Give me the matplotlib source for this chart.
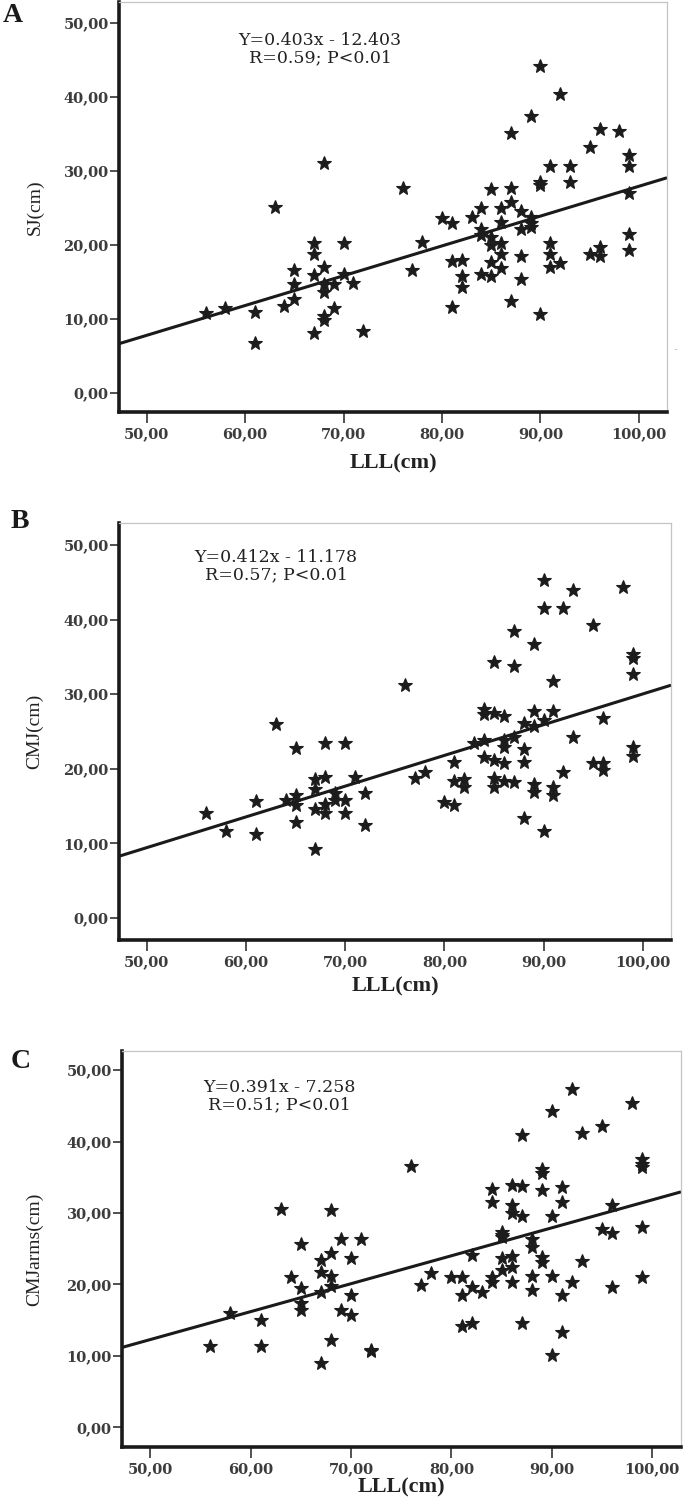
import matplotlib
matplotlib.use("Agg")
import matplotlib.pyplot as plt
from matplotlib.ticker import FixedLocator, FixedFormatter

# ---------------- data ----------------
panel_letters = ["A", "B", "C"]
y_labels = ["SJ(cm)", "CMJ(cm)", "CMJarms(cm)"]
x_label = "LLL(cm)"
slopes = [0.403, 0.412, 0.391]
intercepts = [-12.403, -11.178, -7.258]
annotations = ["Y=0.403x - 12.403\nR=0.59; P<0.01",
               "Y=0.412x - 11.178\nR=0.57; P<0.01",
               "Y=0.391x - 7.258\nR=0.51; P<0.01"]
x_ticks = [50, 60, 70, 80, 90, 100]
x_tick_labels = ["50,00", "60,00", "70,00", "80,00", "90,00", "100,00"]
y_ticks = [0, 10, 20, 30, 40, 50]
y_tick_labels = ["0,00", "10,00", "20,00", "30,00", "40,00", "50,00"]

sj_x = [68, 63, 67, 70, 67, 65, 68, 67, 70, 65, 68, 69, 71, 68, 65, 64, 69, 68, 68, 67, 72, 61, 61, 56, 58,
        90, 92, 89, 87, 96, 98, 95, 99, 99, 91, 93, 90, 90, 93, 99, 76, 85, 87, 87, 84, 86, 88, 80, 81, 83,
        86, 89, 89, 89, 88, 84, 84, 85, 85, 86, 86, 78, 91, 91, 88, 96, 95, 96, 99, 99, 81, 82, 85, 86, 84,
        85, 82, 82, 88, 91, 92, 77, 81, 87, 90]
sj_y = [31.1, 25.1, 20.2, 20.2, 18.7, 16.6, 17.0, 15.9, 16.1, 14.7, 14.7, 14.7, 14.8, 13.6, 12.7, 11.7, 11.4,
        10.3, 9.8, 8.0, 8.4, 10.9, 6.7, 10.8, 11.5,
        44.1, 40.3, 37.4, 35.1, 35.6, 35.4, 33.2, 32.1, 30.7, 30.7, 30.7, 28.5, 28.1, 28.5, 27.0, 27.6, 27.5,
        27.6, 25.8, 24.9, 24.9, 24.5, 23.6, 23.0, 23.7, 23.1, 23.8, 23.0, 22.4, 22.1, 22.1, 21.3, 21.1, 20.0,
        20.2, 18.8, 20.3, 20.2, 18.8, 18.5, 19.7, 18.7, 18.5, 21.5, 19.3, 17.8, 17.9, 17.7, 16.8, 16.1, 15.8,
        15.8, 14.3, 15.3, 17.0, 17.5, 16.6, 11.6, 12.4, 10.6]

cmj_x = [63, 65, 68, 70, 67, 68, 71, 67, 65, 69, 72, 61, 64, 65, 68, 69, 70, 67, 68, 70, 56, 58, 61, 65, 72, 67,
         90, 93, 98, 90, 92, 95, 87, 89, 99, 99, 85, 87, 99, 91, 76, 84, 84, 85, 86, 89, 91, 90, 88, 89, 96,
         83, 84, 86, 87, 86, 88, 93, 99, 99, 81, 84, 85, 86, 88, 95, 96, 96, 92, 77, 78, 81, 82, 82, 85, 85,
         86, 87, 89, 89, 91, 91, 80, 81, 88, 90]
cmj_y = [26.0, 22.8, 23.4, 23.4, 18.6, 18.9, 18.9, 17.3, 16.5, 16.7, 16.7, 15.7, 15.8, 15.1, 15.3, 15.8, 15.8,
         14.6, 14.0, 14.0, 14.1, 11.6, 11.2, 12.9, 12.5, 9.2,
         45.3, 44.0, 44.3, 41.5, 41.5, 39.3, 38.5, 36.7, 35.4, 34.8, 34.3, 33.8, 32.7, 31.7, 31.2, 28.0, 27.4,
         27.5, 27.1, 27.8, 27.8, 26.5, 26.1, 25.7, 26.8, 23.5, 23.8, 23.9, 24.2, 22.9, 22.7, 24.2, 22.9, 21.7,
         20.9, 21.6, 21.2, 20.8, 20.9, 20.8, 20.8, 19.8, 19.5, 18.7, 19.6, 18.3, 18.6, 17.6, 18.8, 17.6, 18.3,
         18.2, 18.0, 16.9, 17.6, 16.5, 15.6, 15.2, 13.4, 11.6]

cmja_x = [63, 68, 65, 69, 71, 67, 68, 70, 64, 67, 68, 65, 68, 67, 70, 65, 65, 69, 70, 58, 61, 56, 61, 68, 72, 72, 67,
          92, 98, 90, 95, 93, 87, 76, 99, 99, 99, 89, 89, 84, 86, 87, 89, 91, 84, 86, 91, 96, 86, 87, 90, 85,
          85, 85, 88, 88, 95, 96, 99, 82, 85, 86, 89, 89, 93, 78, 80, 81, 84, 84, 85, 86, 86, 88, 88, 90, 92,
          77, 82, 83, 81, 91, 96, 99, 81, 82, 87, 91, 90]
cmja_y = [30.6, 30.4, 25.6, 26.4, 26.4, 23.4, 24.4, 23.7, 21.1, 21.7, 21.2, 19.5, 19.8, 18.9, 18.5, 17.4, 16.4,
          16.4, 15.7, 16.0, 15.1, 11.4, 11.4, 12.2, 10.7, 10.9, 9.0,
          47.3, 45.4, 44.3, 42.2, 41.2, 40.9, 36.6, 37.6, 36.9, 36.4, 36.1, 35.6, 33.4, 33.9, 33.8, 33.2, 33.6,
          31.6, 31.1, 31.6, 31.1, 30.0, 29.6, 29.6, 27.4, 26.9, 26.6, 26.3, 25.3, 27.7, 27.2, 28.1, 24.1, 23.7,
          24.0, 23.9, 23.2, 23.3, 21.6, 21.0, 21.0, 21.0, 20.3, 22.0, 22.5, 20.3, 21.2, 19.2, 21.2, 20.3, 19.9,
          19.6, 18.9, 18.5, 18.5, 19.6, 21.0, 14.2, 14.6, 14.6, 13.4, 10.2]

xs = [sj_x, cmj_x, cmja_x]
ys = [sj_y, cmj_y, cmja_y]

# ---------------- layout (pixels) ----------------
W, H = 685, 1504
boxes = [(119, 2, 667, 412), (119, 523, 671, 940), (122, 1051, 681, 1447)]  # l, t, r, b
ylims = [(-2.61, 52.8), (-2.96, 52.94), (-2.73, 52.66)]
xlim = (47.2, 102.85)
ann_pos = [(320, 49), (276, 566), (279, 1096)]
letter_pos = [(13, 16), (20, 521), (21, 1062)]
xlabel_y = [463, 986, 1487]
ylabel_x = 35

fig = plt.figure(figsize=(W / 100, H / 100), dpi=100)
fig.patch.set_facecolor("white")

tick_font = dict(family="DejaVu Serif", weight="bold", size=10.5)

for i in range(3):
    l, t, r, b = boxes[i]
    ax = fig.add_axes([l / W, 1 - b / H, (r - l) / W, (b - t) / H])
    ax.set_xlim(*xlim)
    ax.set_ylim(*ylims[i])

    ax.plot(xs[i], ys[i], linestyle="none", marker="*", markersize=10,
            color="#1c1c1c", markeredgewidth=0.8, zorder=3)
    lx = list(xlim)
    ly = [slopes[i] * v + intercepts[i] for v in lx]
    ax.plot(lx, ly, color="#1a1a1a", linewidth=2.2, zorder=2, solid_capstyle="butt")

    for side in ["left", "bottom"]:
        ax.spines[side].set_linewidth(2.6)
        ax.spines[side].set_color("#1a1a1a")
    for side in ["top", "right"]:
        ax.spines[side].set_linewidth(0.9)
        ax.spines[side].set_color("#c4c4c4")

    ax.xaxis.set_major_locator(FixedLocator(x_ticks))
    ax.xaxis.set_major_formatter(FixedFormatter(x_tick_labels))
    ax.yaxis.set_major_locator(FixedLocator(y_ticks))
    ax.yaxis.set_major_formatter(FixedFormatter(y_tick_labels))
    ax.tick_params(axis="x", direction="out", length=8, width=1.1, color="#222222", pad=3)
    ax.tick_params(axis="y", direction="out", length=6.5, width=1.1, color="#222222", pad=1)
    for lab in ax.get_xticklabels() + ax.get_yticklabels():
        lab.set_fontfamily(tick_font["family"])
        lab.set_fontweight(tick_font["weight"])
        lab.set_fontsize(tick_font["size"])
        lab.set_color("#3c3c3c")

    ax.set_xlabel(x_label, family="Liberation Serif", weight="bold", size=16,
                  color="#222222", va="center")
    ax.xaxis.set_label_coords(0.5, -(xlabel_y[i] - b) / (b - t))
    ax.set_ylabel(y_labels[i], family="Liberation Serif", size=14,
                  color="#222222", va="center")
    ax.yaxis.set_label_coords(-(l - ylabel_x) / (r - l), 0.5)

    axp, ayp = ann_pos[i]
    fig.text(axp / W, 1 - ayp / H, annotations[i], ha="center", va="center",
             family="DejaVu Serif", size=12.5, color="#222222", linespacing=1.05)

    lxp, lyp = letter_pos[i]
    fig.text(lxp / W, 1 - lyp / H, panel_letters[i], ha="center", va="center",
             family="Liberation Serif", weight="bold", size=20, color="#1a1a1a")

fig.text(676 / W, 1 - 348 / H, "..", ha="center", va="center", size=6, color="#888888")

fig.savefig("out.png", dpi=100, facecolor="white")
